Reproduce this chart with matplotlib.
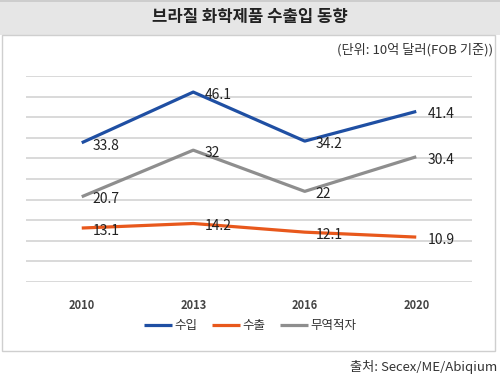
import matplotlib.pyplot as plt
from matplotlib.patches import Rectangle
from matplotlib.lines import Line2D

plt.rcParams['font.family'] = ['Noto Sans CJK KR', 'DejaVu Sans']

years = ['2010', '2013', '2016', '2020']
imports = [33.8, 46.1, 34.2, 41.4]
exports = [13.1, 14.2, 12.1, 10.9]
deficit = [20.7, 32, 22, 30.4]
series_names = ['수입', '수출', '무역적자']
colors = ['#1f4fa3', '#e8581c', '#8e8e8e']

fig = plt.figure(figsize=(5, 3.74), dpi=100)

# title band and chart frame
fig.patches.append(Rectangle((0, 1 - 35 / 374), 1, 35 / 374, transform=fig.transFigure,
                             facecolor='#e6e6e6', edgecolor='none', zorder=0))
fig.add_artist(Line2D([0, 1], [1 - 1 / 374, 1 - 1 / 374], transform=fig.transFigure,
                      color='#c8c8c8', lw=1.2))
fig.patches.append(Rectangle((2 / 500, 1 - 351 / 374), 493 / 500, 316 / 374, transform=fig.transFigure,
                             facecolor='none', edgecolor='#cfcfcf', lw=1.0, zorder=0))

fig.text(0.5, 1 - 17 / 374, '브라질 화학제품 수출입 동향', ha='center', va='center',
         fontsize=12, fontweight='bold', color='#222222')
fig.text(493 / 500, 1 - 50 / 374, '(단위: 10억 달러(FOB 기준))', ha='right', va='center',
         fontsize=9.5, color='#333333')
fig.text(497 / 500, 1 - 367 / 374, '출처: Secex/ME/Abiqium', ha='right', va='center',
         fontsize=9.5, color='#333333')

ax = fig.add_axes([26 / 500, 1 - 282 / 374, 446 / 500, 206 / 374])
ax.set_facecolor('none')
ax.set_zorder(2)
x = list(range(len(years)))
for vals, name, c in zip([imports, exports, deficit], series_names, colors):
    ax.plot(x, vals, color=c, lw=2.3, label=name, zorder=3, solid_capstyle='butt')
    for xi, v in zip(x, vals):
        ax.annotate(f'{v:g}', (xi, v), xytext=(8, -2), textcoords='offset points',
                    ha='left', va='center', fontsize=10, color='#222222', zorder=4)

ax.set_xlim(-0.5, 3.5)
ax.set_ylim(0, 50)
ax.set_yticks(range(0, 51, 5))
ax.yaxis.grid(True, color='#d0d0d0', lw=1.1)
ax.set_axisbelow(True)
ax.tick_params(axis='y', left=False, labelleft=False)
ax.tick_params(axis='x', bottom=False, pad=9)
ax.set_xticks(x)
ax.set_xticklabels(years, fontsize=8, fontweight='bold', color='#444444')
for s in ax.spines.values():
    s.set_visible(False)

fig.legend(loc='center', bbox_to_anchor=(250 / 500, 1 - 326 / 374), ncol=3, frameon=False,
           fontsize=9, handlelength=2.2, handletextpad=0.2, columnspacing=1.2,
           labelcolor='#333333')

fig.savefig('out.png', dpi=100)
